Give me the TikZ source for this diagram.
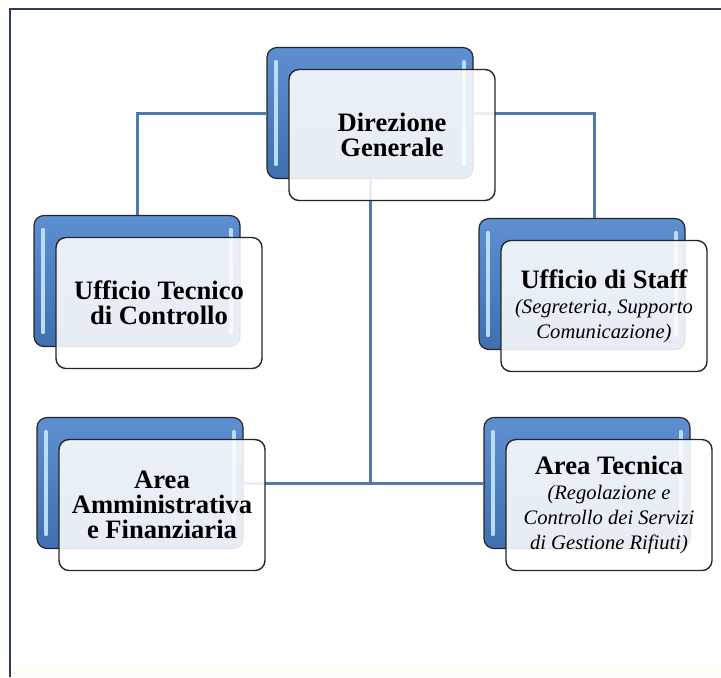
\documentclass[tikz,border=0pt]{standalone}
\usepackage{fontspec}
\setmainfont{Liberation Serif}
\usepackage{xcolor}
\usetikzlibrary{positioning, backgrounds}

\definecolor{boxtop}{HTML}{5E8FD0}
\definecolor{boxbot}{HTML}{3F6FB0}
\definecolor{linkblue}{HTML}{5179AC}
\definecolor{framenavy}{HTML}{2E3B5E}
\definecolor{glare}{HTML}{B9DDF5}

\newcommand{\subtxt}[1]{{\fontsize{10.3}{10}\selectfont\mdseries\itshape #1}}

\tikzset{
  backbox/.style={draw=black!85, line width=0.6pt, rounded corners=5pt,
    top color=boxtop, bottom color=boxbot,
    minimum width=103pt, minimum height=65.5pt, inner sep=0pt,
    path picture={
      \draw[glare, line width=1.6pt, line cap=round]
        ([shift={(4.5pt,-7pt)}]path picture bounding box.north west) --
        ([shift={(4.5pt,7pt)}]path picture bounding box.south west)
        ([shift={(-4.5pt,-7pt)}]path picture bounding box.north east) --
        ([shift={(-4.5pt,7pt)}]path picture bounding box.south east);
    }},
  frontbox/.style={draw=black!85, line width=0.7pt, rounded corners=5pt,
    fill=white, fill opacity=0.88, text opacity=1,
    minimum width=103pt, minimum height=65.5pt, inner sep=2pt,
    align=center, font=\fontsize{13.3}{12.5}\selectfont\bfseries},
  link/.style={linkblue, line width=1.5pt}
}

\begin{document}
\begin{tikzpicture}[x=0.5pt, y=-0.5pt]
  \useasboundingbox (0,0) rectangle (721,677);
  % Units
  \node[backbox] (dgB) at (370,113) {};
  \node[frontbox] (dgF) at ([shift={(22,22)}]dgB) {Direzione\\Generale};
  \node[backbox] (utcB) at (137,281) {};
  \node[frontbox] (utcF) at ([shift={(22,22)}]utcB) {Ufficio Tecnico\\di Controllo};
  \node[backbox] (staffB) at (582,284) {};
  \node[frontbox] (staffF) at ([shift={(22,22)}]staffB)
    {Ufficio di Staff\\\subtxt{(Segreteria, Supporto}\\\subtxt{Comunicazione)}};
  \node[backbox] (aafB) at (140,483) {};
  \node[frontbox] (aafF) at ([shift={(22,22)}]aafB) {Area\\Amministrativa\\e Finanziaria};
  \node[backbox] (atB) at (587,483) {};
  \node[frontbox] (atF) at ([shift={(22,22)}]atB)
    {Area Tecnica\\\subtxt{(Regolazione e}\\\subtxt{Controllo dei Servizi}\\\subtxt{di Gestione Rifiuti)}};
  \begin{scope}[on background layer]
    % Frame
    \fill[yellow!3] (10,664) rectangle (721,677);
    \draw[framenavy, line width=1pt] (10,677) -- (10,9) -- (721,9);
    % Links
    \draw[link] (dgB.west) -| (utcB.north);
    \draw[link] (dgB.east) -| ([xshift=6pt]staffB.north);
    \coordinate (hub) at (dgB.south |- atB.west);
    \draw[link] (dgB.south) -- (hub);
    \draw[link] (aafB.east) -- (atB.west);
  \end{scope}
\end{tikzpicture}
\end{document}
